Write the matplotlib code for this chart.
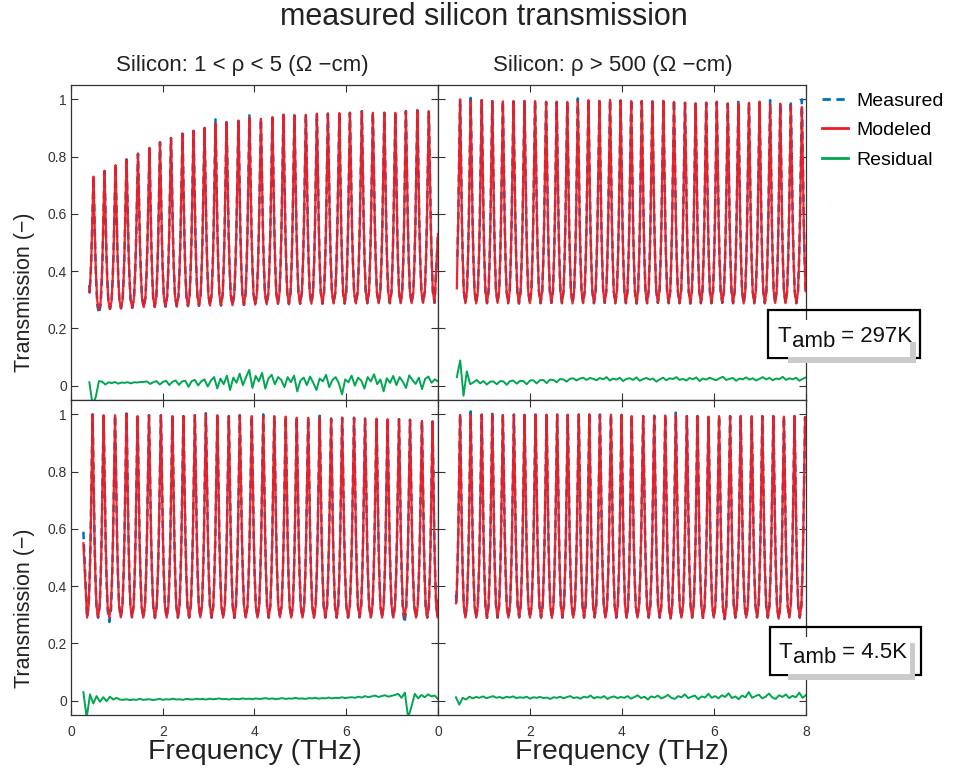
import numpy as np
import matplotlib.pyplot as plt
from matplotlib.lines import Line2D
from matplotlib.patches import Rectangle
from matplotlib.text import Annotation

W, H = 954, 776

C_MEAS = '#0072bc'
C_MODEL = '#ed1c24'
C_RES = '#00a651'

# one fringe, trough (0) -> peak (1), as fraction of half period / of swing
fringe_pos = np.array([0.0, 0.3, 0.5, 0.65, 0.8, 0.92, 1.0])
fringe_lvl = np.array([0.0, 0.06, 0.22, 0.40, 0.66, 0.88, 1.0])

# ---- 297 K, 1 < rho < 5 ----
pk_f_tl = [0.49, 0.73, 0.97, 1.21, 1.46, 1.71, 1.94, 2.18, 2.43, 2.67,
           2.91, 3.15, 3.39, 3.65, 3.89, 4.14, 4.39, 4.63, 4.87, 5.12,
           5.36, 5.60, 5.85, 6.08, 6.34, 6.58, 6.83, 7.07, 7.30, 7.55, 7.80]
pk_t_tl = [0.73, 0.75, 0.77, 0.79, 0.81, 0.83, 0.85, 0.865, 0.88, 0.89,
           0.90, 0.915, 0.92, 0.925, 0.935, 0.932, 0.938, 0.946, 0.944, 0.946,
           0.95, 0.95, 0.952, 0.953, 0.959, 0.953, 0.953, 0.953, 0.959, 0.962, 0.959]
tr_t_tl = [0.30, 0.265, 0.268, 0.27, 0.272, 0.274, 0.275, 0.276, 0.277, 0.278,
           0.279, 0.28, 0.28, 0.281, 0.282, 0.283, 0.284, 0.285, 0.285, 0.286,
           0.286, 0.286, 0.287, 0.287, 0.287, 0.288, 0.288, 0.288, 0.288, 0.288,
           0.289, 0.289]
start_tl, end_tl = (0.40, 0.33), (8.0, 0.53)
meas_start_tl = (0.40, 0.35)
meas_pk_fix_tl = {11: 0.93, 14: 0.95, 16: 0.945}
meas_tr_fix_tl = {1: 0.252}
res_tl = [0.012, -0.065, -0.040, 0.016,
          0.014, 0.004, 0.012, 0.009, 0.013, 0.007, 0.011, 0.010, 0.012, 0.008,
          0.012, 0.011, 0.013,
          0.013, 0.015, 0.006, 0.012, 0.016, 0.004, 0.013, 0.017, 0.002, 0.014,
          0.018, 0.003, 0.015, 0.017, -0.004, 0.016, 0.020, 0.001, 0.015, 0.022,
          -0.003,
          0.018, 0.030, -0.010, 0.025, 0.005, 0.035, -0.015, 0.028, 0.010, 0.042,
          0.002, 0.030, 0.055, -0.008, 0.034, 0.015, 0.045, -0.010, 0.025, 0.038,
          0.005, 0.030,
          0.020, -0.005, 0.030, 0.012, 0.035, -0.020, 0.018, 0.028, 0.002, 0.032,
          0.010, -0.015, 0.025, 0.015, 0.038, -0.005, 0.020, 0.030, 0.008, -0.030,
          0.022, 0.012, 0.035, 0.000, 0.028, 0.018, -0.010, 0.030, 0.015, 0.040,
          0.005, 0.022, -0.020, 0.026, 0.010, 0.034, 0.002, 0.030, 0.014, -0.008,
          0.036, 0.020, 0.006, 0.028, -0.012, 0.024, 0.032, 0.010, 0.022, 0.015]
res_span_tl = (0.40, 8.0)

# ---- 297 K, rho > 500 ----
pk_f_tr = [0.48, 0.71, 0.95, 1.18, 1.41, 1.64, 1.88, 2.11, 2.35, 2.58,
           2.81, 3.04, 3.27, 3.51, 3.74, 3.97, 4.20, 4.43, 4.66, 4.90,
           5.13, 5.37, 5.60, 5.83, 6.06, 6.30, 6.53, 6.76, 6.99, 7.22,
           7.44, 7.67, 7.91]
pk_t_tr = [1.0, 0.995, 0.997, 0.994, 0.993, 0.993, 0.994, 0.994, 0.991, 0.991,
           0.991, 0.993, 0.997, 0.994, 0.998, 0.996, 0.994, 0.994, 0.994, 0.994,
           0.991, 0.988, 0.985, 0.988, 0.991, 0.985, 0.985, 0.988, 0.991, 0.985,
           0.985, 0.979, 0.973]
tr_t_tr = [0.30, 0.288, 0.287, 0.288, 0.289, 0.288, 0.287, 0.288, 0.288, 0.289,
           0.288, 0.287, 0.288, 0.288, 0.289, 0.288, 0.288, 0.287, 0.288, 0.289,
           0.288, 0.288, 0.287, 0.288, 0.288, 0.289, 0.288, 0.287, 0.288, 0.288,
           0.289, 0.288, 0.288, 0.288]
start_tr, end_tr = (0.41, 0.34), (8.0, 0.36)
meas_start_tr = (0.41, 0.45)
meas_pk_fix_tr = {1: 1.005, 11: 1.003, 16: 1.0, 18: 1.0, 20: 0.998, 26: 0.996,
                  29: 0.997, 31: 0.995, 32: 1.0}
meas_tr_fix_tr = {}
res_tr = [0.030, 0.088, -0.035, 0.050, 0.005,
          0.012, 0.020, 0.008, 0.016, 0.004, 0.014, 0.015, 0.005, 0.016, 0.015,
          0.003, 0.016, 0.018, 0.007, 0.017, 0.016, 0.005, 0.018, 0.019, 0.008,
          0.019, 0.020, 0.009, 0.021, 0.020, 0.012, 0.023, 0.022, 0.014, 0.024,
          0.026, 0.018, 0.025, 0.028, 0.020, 0.027,
          0.024, 0.019, 0.027, 0.022, 0.030, 0.018, 0.025, 0.021, 0.028, 0.016,
          0.024, 0.026, 0.020, 0.029, 0.017, 0.023, 0.027, 0.021, 0.025, 0.014,
          0.022, 0.028, 0.019, 0.026, 0.023, 0.030, 0.020, 0.024, 0.018, 0.027,
          0.022, 0.029, 0.016, 0.025, 0.021, 0.028, 0.023, 0.019, 0.026, 0.031,
          0.020, 0.024, 0.027, 0.017, 0.025, 0.022, 0.029, 0.021, 0.026, 0.018,
          0.024, 0.030, 0.022, 0.027, 0.019, 0.025, 0.023, 0.031, 0.020, 0.026,
          0.022, 0.028, 0.017, 0.024, 0.029]
res_span_tr = (0.41, 8.0)

# ---- 4.5 K, 1 < rho < 5 ----
pk_f_bl = [0.47, 0.71, 0.96, 1.21, 1.45, 1.70, 1.96, 2.21, 2.45, 2.70,
           2.94, 3.19, 3.44, 3.68, 3.94, 4.19, 4.43, 4.68, 4.92, 5.17,
           5.42, 5.67, 5.91, 6.17, 6.41, 6.66, 6.90, 7.15, 7.39, 7.65, 7.88]
pk_t_bl = [1.0, 0.997, 0.997, 1.0, 0.994, 0.997, 0.997, 0.994, 0.994, 0.997,
           1.0, 0.997, 0.994, 0.997, 0.994, 0.994, 0.994, 0.992, 0.988, 0.988,
           0.988, 0.985, 0.988, 0.988, 0.985, 0.985, 0.983, 0.983, 0.981, 0.977,
           0.975]
tr_t_bl = [0.29, 0.29, 0.29, 0.291, 0.29, 0.29, 0.289, 0.29, 0.29, 0.29,
           0.291, 0.29, 0.29, 0.289, 0.29, 0.29, 0.29, 0.291, 0.29, 0.29,
           0.289, 0.29, 0.29, 0.29, 0.291, 0.29, 0.29, 0.29, 0.29, 0.29,
           0.29, 0.29]
start_bl, end_bl = (0.27, 0.55), (8.0, 0.35)
meas_start_bl = (0.27, 0.59)
meas_pk_fix_bl = {3: 1.003, 10: 1.004, 15: 1.0, 20: 0.995}
meas_tr_fix_bl = {2: 0.275, 28: 0.272}
res_bl = [0.030, -0.060, 0.022, -0.010, 0.016, -0.004,
          0.012, -0.002, 0.014, 0.004, 0.010,
          0.004, 0.003, 0.005, 0.002, 0.004, 0.003, 0.006, 0.003, 0.004, 0.005,
          0.002, 0.004, 0.006, 0.003, 0.005, 0.004, 0.007, 0.004, 0.005, 0.003,
          0.006, 0.005, 0.004, 0.007, 0.005, 0.006, 0.004, 0.007, 0.005, 0.006,
          0.008, 0.005, 0.006, 0.004, 0.007, 0.006, 0.005, 0.008, 0.006, 0.007,
          0.005, 0.008, 0.006, 0.007, 0.009, 0.006, 0.008, 0.005, 0.007, 0.009,
          0.006, 0.008, 0.007, 0.010, 0.007, 0.008, 0.006, 0.009, 0.008, 0.010,
          0.007, 0.009, 0.008, 0.011, 0.008, 0.010, 0.009, 0.012, 0.009, 0.011,
          0.012, 0.010, 0.014, 0.011, 0.016, 0.012, 0.015, 0.018, 0.013, 0.016,
          0.019, 0.014, 0.017, 0.020, 0.024,
          0.010, 0.028, -0.060, -0.020, 0.024, 0.008, 0.020, 0.012, 0.022, 0.015,
          0.018, 0.006]
res_span_bl = (0.27, 8.0)

# ---- 4.5 K, rho > 500 ----
pk_f_br = [0.48, 0.71, 0.95, 1.18, 1.41, 1.65, 1.88, 2.12, 2.36, 2.59,
           2.82, 3.06, 3.29, 3.52, 3.76, 3.99, 4.21, 4.46, 4.70, 4.94,
           5.17, 5.41, 5.64, 5.88, 6.11, 6.35, 6.58, 6.82, 7.05, 7.29,
           7.52, 7.75, 7.98]
pk_t_br = [0.998, 1.0, 0.999, 1.0, 0.998, 0.999, 0.998, 0.999, 0.998, 0.999,
           0.998, 0.999, 1.0, 0.999, 0.999, 0.998, 0.994, 0.994, 0.995, 0.996,
           0.998, 0.994, 0.994, 0.992, 0.994, 0.994, 0.995, 0.994, 0.994, 0.994,
           0.992, 0.994, 0.99]
tr_t_br = [0.30, 0.29, 0.29, 0.289, 0.29, 0.29, 0.291, 0.29, 0.29, 0.289,
           0.29, 0.29, 0.29, 0.291, 0.29, 0.29, 0.289, 0.29, 0.29, 0.29,
           0.286, 0.29, 0.29, 0.289, 0.29, 0.285, 0.29, 0.29, 0.291, 0.29,
           0.286, 0.29, 0.29, 0.29]
start_br, end_br = (0.39, 0.34), (8.0, 0.95)
meas_start_br = (0.39, 0.37)
meas_pk_fix_br = {1: 1.01, 3: 1.008, 12: 1.007, 20: 1.006}
meas_tr_fix_br = {}
res_br = [0.012, -0.014, 0.010, 0.004, 0.014,
          0.008, 0.013, 0.010, 0.015, 0.009, 0.012, 0.016, 0.010, 0.013, 0.008,
          0.014, 0.011, 0.015, 0.009, 0.012, 0.010, 0.014, 0.007, 0.012, 0.010,
          0.013, 0.009, 0.011, 0.006, 0.012, 0.010, 0.014, 0.008, 0.013, 0.016,
          0.009, 0.012, 0.007, 0.014, 0.011, 0.018, 0.008, 0.013, 0.010, 0.016,
          0.006, 0.012, 0.015, 0.009, 0.013,
          0.010, 0.016, 0.007, 0.013, 0.019, 0.009, 0.014, 0.004, 0.015, 0.011,
          0.018, 0.008, 0.013, 0.020, 0.010, 0.006, 0.016, 0.012, 0.022, 0.009,
          0.014, 0.018, 0.005, 0.015, 0.011, 0.024, 0.010, 0.016, 0.008, 0.019,
          0.013, 0.026, 0.009, 0.015, 0.005, 0.018, 0.012, 0.030, 0.010, 0.016,
          0.021, 0.008, 0.014, 0.025, 0.011, 0.006, 0.019, 0.013, 0.022, 0.009,
          0.017, 0.012, 0.028, 0.010, 0.020]
res_span_br = (0.39, 8.0)

subtitles = ['Silicon: 1 < ρ < 5 (Ω −cm)', 'Silicon: ρ > 500 (Ω −cm)']
temps = ['297K', '4.5K']


def fringes(pk_f, pk_t, tr_t, start, end):
    pk_f, pk_t, tr_t = map(np.asarray, (pk_f, pk_t, tr_t))
    tr_f = np.concatenate([[pk_f[0] - (pk_f[1] - pk_f[0]) / 2],
                           (pk_f[:-1] + pk_f[1:]) / 2,
                           [pk_f[-1] + (pk_f[-1] - pk_f[-2]) / 2]])
    up_s, up_l = fringe_pos[:-1], fringe_lvl[:-1]
    dn_s, dn_l = (1 - fringe_pos[::-1])[:-1], fringe_lvl[::-1][:-1]
    f, t = [], []
    for i in range(len(pk_f)):
        f.append(tr_f[i] + up_s * (pk_f[i] - tr_f[i]))
        t.append(tr_t[i] + up_l * (pk_t[i] - tr_t[i]))
        f.append(pk_f[i] + dn_s * (tr_f[i + 1] - pk_f[i]))
        t.append(tr_t[i + 1] + dn_l * (pk_t[i] - tr_t[i + 1]))
    f = np.concatenate(f + [[tr_f[-1]]])
    t = np.concatenate(t + [[tr_t[-1]]])
    keep = (f > start[0]) & (f < end[0])
    return (np.concatenate([[start[0]], f[keep], [end[0]]]),
            np.concatenate([[start[1]], t[keep], [end[1]]]))


def with_fixes(vals, fixes):
    vals = np.array(vals, dtype=float)
    for i, v in fixes.items():
        vals[i] = v
    return vals


panels = [
    (pk_f_tl, pk_t_tl, tr_t_tl, start_tl, end_tl, meas_start_tl, meas_pk_fix_tl, meas_tr_fix_tl, res_tl, res_span_tl),
    (pk_f_tr, pk_t_tr, tr_t_tr, start_tr, end_tr, meas_start_tr, meas_pk_fix_tr, meas_tr_fix_tr, res_tr, res_span_tr),
    (pk_f_bl, pk_t_bl, tr_t_bl, start_bl, end_bl, meas_start_bl, meas_pk_fix_bl, meas_tr_fix_bl, res_bl, res_span_bl),
    (pk_f_br, pk_t_br, tr_t_br, start_br, end_br, meas_start_br, meas_pk_fix_br, meas_tr_fix_br, res_br, res_span_br),
]

plt.rcParams['font.family'] = ['Liberation Sans', 'DejaVu Sans']
fig = plt.figure(figsize=(W / 100, H / 100), dpi=100)


def fx(x):
    return x / W


def fy(y):
    return 1 - y / H


boxes = [(71, 85, 438, 400), (438, 85, 806, 400),
         (71, 400, 438, 715), (438, 400, 806, 715)]
axes = []
for k, (x0, y0, x1, y1) in enumerate(boxes):
    ax = fig.add_axes([fx(x0), fy(y1), (x1 - x0) / W, (y1 - y0) / H])
    pk_f, pk_t, tr_t, st, en, mst, pfix, tfix, res, span = panels[k]
    rf = np.linspace(span[0], span[1], len(res))
    ax.plot(rf, res, color=C_RES, lw=1.4, zorder=2)
    mf, mt = fringes(pk_f, with_fixes(pk_t, pfix), with_fixes(tr_t, tfix), mst, en)
    ax.plot(mf, mt, color=C_MEAS, lw=1.8, ls=(0, (3, 2)), zorder=3)
    f, t = fringes(pk_f, pk_t, tr_t, st, en)
    ax.plot(f, t, color=C_MODEL, lw=1.6, zorder=4, alpha=0.95)

    ax.set_xlim(0, 8)
    ax.set_ylim(-0.05, 1.05)
    ax.set_xticks([0, 2, 4, 6, 8])
    ax.set_yticks([0, 0.2, 0.4, 0.6, 0.8, 1.0])
    ax.set_yticklabels(['0', '0.2', '0.4', '0.6', '0.8', '1'])
    if k == 2:
        ax.set_xticklabels(['0', '2', '4', '6', ''])
    else:
        ax.set_xticklabels(['0', '2', '4', '6', '8'])
    ax.tick_params(direction='in', top=True, right=True, length=5, width=0.8,
                   labelsize=10, colors='#333333', pad=3)
    ax.tick_params(axis='x', pad=7)
    ax.tick_params(labelbottom=k >= 2, labelleft=k % 2 == 0)
    for s in ax.spines.values():
        s.set_color('#333333')
        s.set_linewidth(0.9)
    axes.append(ax)

# titles and axis labels
fig.text(fx(484), fy(17), 'measured silicon transmission', fontsize=22,
         ha='center', va='center', color='#222222')
fig.text(fx(242), fy(65), subtitles[0], fontsize=16, ha='center', va='center',
         color='#222222')
fig.text(fx(613), fy(65), subtitles[1], fontsize=16, ha='center', va='center',
         color='#222222')
for yc in (292, 608):
    fig.text(fx(25), fy(yc), 'Transmission (−)', rotation=90, fontsize=15.5,
             ha='center', va='center', color='#222222')
for xc in (255, 622):
    fig.text(fx(xc), fy(752), 'Frequency (THz)', fontsize=20.5,
             ha='center', va='center', color='#222222')

# legend
handles = [Line2D([], [], color=C_MEAS, lw=2, ls=(0, (3, 2))),
           Line2D([], [], color=C_MODEL, lw=2),
           Line2D([], [], color=C_RES, lw=2)]
fig.legend(handles, ['Measured', 'Modeled', 'Residual'], loc='upper left',
           bbox_to_anchor=(fx(822), fy(92)), frameon=False, fontsize=14,
           borderaxespad=0, borderpad=0, handlelength=1.35,
           handletextpad=0.4, labelspacing=0.62)

# temperature boxes with a drop shadow
tboxes = [((768, 310, 920, 358), (788, 342, 916, 363), (770, 320, 910, 357), (778, 341.7)),
          ((770, 627, 921, 675), (788, 643, 915, 680), (772, 637, 910, 674), (779, 658))]


def rect(x0, y0, x1, y1, **kw):
    r = Rectangle((fx(x0), fy(y1)), (x1 - x0) / W, (y1 - y0) / H,
                  transform=fig.transFigure, **kw)
    fig.add_artist(r)


for (frame, shadow, bg, (tx, ty)), temp in zip(tboxes, temps):
    rect(*frame, facecolor='none', edgecolor='black', lw=1.6, zorder=5)
    rect(*shadow, facecolor='#cbcbcb', edgecolor='none', zorder=6)
    rect(*bg, facecolor='white', edgecolor='none', zorder=7)
    t1 = fig.text(fx(tx), fy(ty), 'T', fontsize=16, va='baseline', ha='left',
                  zorder=8, color='#111111')
    t2 = Annotation('amb', xy=(1, 0), xycoords=t1, xytext=(0.3, -3.6),
                    textcoords='offset points', va='bottom', ha='left',
                    fontsize=16, zorder=8, color='#111111')
    fig.add_artist(t2)
    t3 = Annotation(' = ' + temp, xy=(1, 0), xycoords=t2, xytext=(0, 3.6),
                    textcoords='offset points', va='bottom', ha='left',
                    fontsize=16, zorder=8, color='#111111')
    fig.add_artist(t3)

fig.savefig('out.png', dpi=100)
